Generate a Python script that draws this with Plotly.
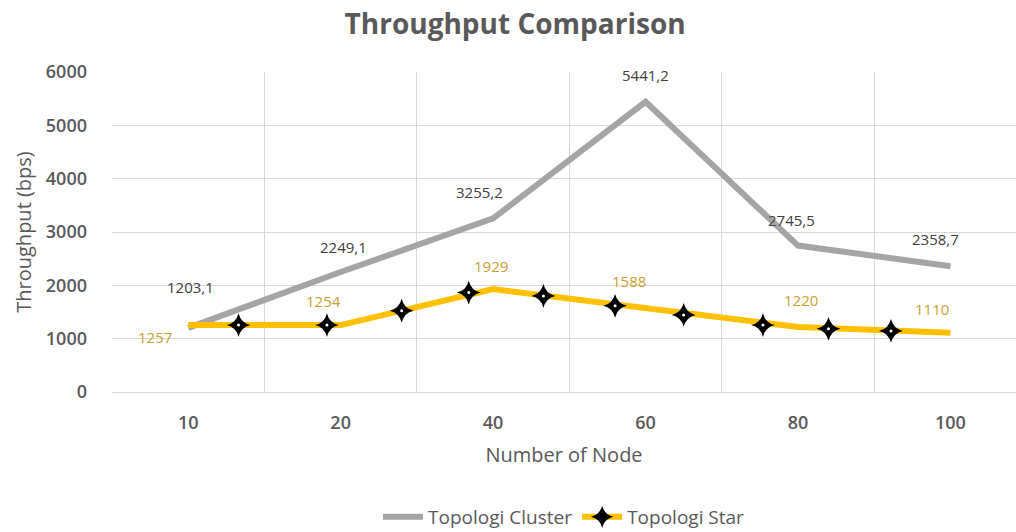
import plotly.graph_objects as go

categories = ["10", "20", "40", "60", "80", "100"]
cluster = [1203.1, 2249.1, 3255.2, 5441.2, 2745.5, 2358.7]
star = [1257, 1254, 1929, 1588, 1220, 1110]
# star-shaped markers drawn along the Star line (positions in category units)
marker_x = [0.33, 0.91, 1.40, 1.84, 2.33, 2.80, 3.25, 3.77, 4.20, 4.61]
marker_y = [1255, 1255, 1525, 1865, 1800, 1615, 1445, 1255, 1185, 1145]
y_ticks = [0, 1000, 2000, 3000, 4000, 5000, 6000]

xs = list(range(len(categories)))

def fmt(v):
    if float(v).is_integer():
        return str(int(v))
    return f"{v:.1f}".replace(".", ",")

FONT = "Open Sans"
TXT = "#595959"
GREY = "#A5A5A5"
YEL = "#FFC000"

fig = go.Figure()
fig.add_trace(go.Scatter(x=xs, y=cluster, mode="lines", name="Topologi Cluster",
                         line=dict(color=GREY, width=6), showlegend=True))
fig.add_trace(go.Scatter(x=xs, y=star, mode="lines", name="Topologi Star",
                         line=dict(color=YEL, width=6), showlegend=False))
fig.add_trace(go.Scatter(x=marker_x, y=marker_y, mode="markers", showlegend=False,
                         marker=dict(symbol="star-diamond", size=17, color="black")))
fig.add_trace(go.Scatter(x=marker_x, y=marker_y, mode="markers", showlegend=False,
                         marker=dict(symbol="circle", size=3, color="white")))
# legend entry for the Star series
fig.add_trace(go.Scatter(x=[None], y=[None], mode="lines+markers", name="Topologi Star",
                         line=dict(color=YEL, width=6),
                         marker=dict(symbol="star-diamond", size=17, color="black")))

cl_shift = [(2, 41), (3, 25), (-14, 26), (0, 27), (-7, 26), (-15, 27)]
st_shift = [(-33, -12), (-17, 24), (-2, 23), (-17, 26), (3, 27), (-18, 24)]
for i, v in enumerate(cluster):
    fig.add_annotation(x=xs[i], y=v, text=fmt(v), showarrow=False,
                       xshift=cl_shift[i][0], yshift=cl_shift[i][1],
                       font=dict(family=FONT, size=15, color="#404040"))
for i, v in enumerate(star):
    fig.add_annotation(x=xs[i], y=v, text=fmt(v), showarrow=False,
                       xshift=st_shift[i][0], yshift=st_shift[i][1],
                       font=dict(family=FONT, size=15, color="#C9A032"))

fig.update_layout(
    width=1016, height=532,
    margin=dict(l=112, r=0, t=72, b=140, autoexpand=False),
    paper_bgcolor="white", plot_bgcolor="white",
    font=dict(family=FONT, color=TXT, size=18),
    title=dict(text="<b>Throughput Comparison</b>", x=0.507, xanchor="center",
               y=1 - 24 / 532, yref="container", yanchor="middle",
               font=dict(family=FONT, size=28, color=TXT)),
    legend=dict(orientation="h", x=0.5, xanchor="center",
                yref="container", y=15 / 532, yanchor="middle",
                font=dict(family=FONT, size=19, color=TXT), itemwidth=40),
    xaxis=dict(range=[-0.5, 5.43], tickvals=xs, ticktext=categories, automargin=False,
               showgrid=False, zeroline=False, showline=False, ticks="",
               ticklabelstandoff=18, tickfont=dict(size=18, weight=600),
               minor=dict(tickvals=[i - 0.5 for i in range(len(categories) + 1)],
                          showgrid=True, gridcolor="#D9D9D9", gridwidth=1, ticks=""),
               title=dict(text="Number of Node", standoff=14,
                          font=dict(family=FONT, size=20, color=TXT))),
    yaxis=dict(range=[0, 6000], tickvals=y_ticks, showgrid=True, gridcolor="#D9D9D9",
               automargin=False,
               zeroline=True, zerolinecolor="#D9D9D9", zerolinewidth=1,
               showline=False, ticks="", ticklabelstandoff=24,
               tickfont=dict(size=18, weight=600),
               title=dict(text="Throughput (bps)", standoff=8,
                          font=dict(family=FONT, size=20, color=TXT))),
)

fig.write_html("out.html", config={"displayModeBar": False},
               post_script="document.body.style.margin='0';")
